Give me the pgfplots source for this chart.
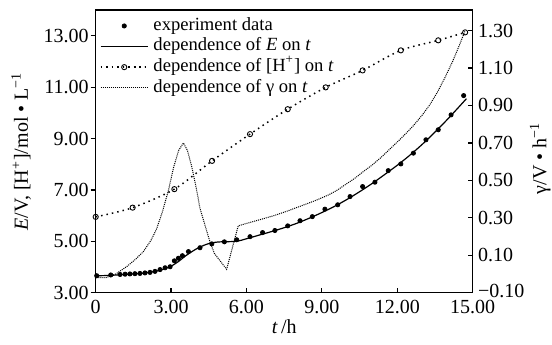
\documentclass[border=0pt]{standalone}
\usepackage{pgfplots}
\pgfplotsset{compat=1.18}
\usepackage{fontspec}
\setmainfont{Liberation Serif}
\begin{document}
\begin{tikzpicture}
\pgfplotsset{
  common/.style={
    scale only axis, width=188.5pt, height=141.35pt,
    xmin=0, xmax=15,
    /pgf/number format/assume math mode=true,
    tick label style={font=\fontsize{10}{12}\selectfont},
    label style={font=\fontsize{10.5}{12}\selectfont},
    major tick length=2.5pt,
    axis line style={line width=0.6pt},
    tick style={line width=0.6pt, black},
  }
}
\begin{axis}[common,
  ymin=3, ymax=14,
  xtick={0,3,6,9,12,15}, xticklabels={0,3.00,6.00,9.00,12.00,15.00},
  xtick pos=lower, ytick pos=left,
  ytick={3,5,7,9,11,13}, yticklabels={3.00,5.00,7.00,9.00,11.00,13.00},
  ytick style={xshift=-2.5pt},
  xlabel={\textit{t}\,/h},
  ylabel={\textit{E}/V, [H\textsuperscript{+}]/mol • L\textsuperscript{−1}},
  every axis x label/.style={at={(axis description cs:0.5,-0.12)}, anchor=center},
  every axis y label/.style={at={(axis description cs:-0.198,0.5)}, rotate=90, anchor=center},
  legend style={at={(axis description cs:0.0114,0.98)}, anchor=north west,
    draw=none, fill=none, inner sep=0pt, outer sep=0pt, row sep=0pt, column sep=0pt,
    font=\fontsize{9.3}{10}\selectfont,
    nodes={inner sep=0pt, inner xsep=2.5pt, inner ysep=0.75pt, text height=6.6pt, text depth=2.2pt}},
  legend cell align=left,
  legend image code/.code={\draw[mark repeat=2,mark phase=2,#1] plot coordinates {(0pt,0pt) (11.75pt,0pt) (23.5pt,0pt)};},
]
% experiment data
\addplot[only marks, mark=*, mark size=1.05pt, black] coordinates {
(0.04,3.66) (0.6,3.69) (0.97,3.71) (1.17,3.72) (1.36,3.73) (1.56,3.74) (1.76,3.75)
(1.96,3.77) (2.16,3.79) (2.36,3.83) (2.56,3.90) (2.76,3.97) (2.96,4.01)
(3.13,4.24) (3.29,4.34) (3.45,4.44) (3.69,4.60) (4.15,4.75) (4.62,4.90)
(5.12,4.98) (5.61,5.06) (6.14,5.18) (6.64,5.34) (7.13,5.42) (7.64,5.60)
(8.13,5.80) (8.62,5.96) (9.12,6.25) (9.63,6.42) (10.12,6.74) (10.62,7.13)
(11.11,7.30) (11.64,7.75) (12.14,8.01) (12.64,8.43) (13.14,8.95) (13.63,9.34)
(14.14,9.92) (14.64,10.67)
};
\addlegendentry{experiment data}
% E line
\addplot[black, line width=0.6pt, smooth, tension=0.5] coordinates {
(0,3.66) (0.5,3.67) (1.0,3.70) (1.5,3.73) (2.0,3.77) (2.5,3.86) (2.8,3.95)
(3.0,4.03) (3.3,4.22) (3.6,4.45) (4.0,4.70) (4.4,4.88) (4.75,4.96) (5.0,4.98)
(5.6,5.0) (6.0,5.10) (6.5,5.24) (7.0,5.38) (7.5,5.53) (8.0,5.70) (8.5,5.90)
(9.0,6.12) (9.5,6.36) (10.0,6.63) (10.5,6.93) (11.0,7.25) (11.5,7.60)
(12.0,7.96) (12.5,8.35) (13.0,8.78) (13.5,9.25) (14.0,9.75) (14.5,10.28) (14.75,10.55)
};
\addlegendentry{dependence of \textit{E} on \textit{t}}
% H+ line
\addplot[black, line width=0.75pt, dash pattern=on 0.75pt off 2pt, smooth,
  mark=o, mark size=1.3pt, mark options={solid, line width=0.45pt}] coordinates {
(0,5.95) (1.47,6.31) (3.13,7.03) (4.63,8.13) (6.14,9.17) (7.64,10.14)
(9.15,10.99) (10.62,11.65) (12.14,12.43) (13.63,12.82) (14.7,13.13)
};
\addlegendentry{dependence of [H\textsuperscript{+}] on \textit{t}}
\addlegendimage{black, line width=0.5pt, dash pattern=on 0.5pt off 0.5pt}
\addlegendentry{dependence of γ on \textit{t}}
\end{axis}
\begin{axis}[common,
  ymin=-0.10, ymax=1.41,
  axis x line=none, axis y line*=right,
  ytick={-0.1,0.1,0.3,0.5,0.7,0.9,1.1,1.3},
  yticklabels={\raisebox{1.8pt}{−0.10},0.10,0.30,0.50,0.70,0.90,1.10,1.30},
  yticklabel style={xshift=-0.8pt},
  ylabel={γ/V • h\textsuperscript{−1}},
  every axis y label/.style={at={(axis description cs:1.179,0.476)}, rotate=90, anchor=center},
]
\addplot[black, line width=0.5pt, dash pattern=on 0.5pt off 0.5pt] coordinates {
(0,-0.02) (0.4,-0.02) (0.8,0.0) (1.23,0.039) (1.6,0.08) (1.9,0.12) (2.2,0.18)
(2.42,0.24) (2.65,0.33) (2.9,0.45) (3.1,0.57) (3.3,0.66) (3.49,0.70) (3.65,0.66)
(3.82,0.574) (4.0,0.46) (4.15,0.35) (4.35,0.26) (4.55,0.17) (4.72,0.11) (5.21,0.025)
(5.67,0.257) (6.0,0.27) (6.4,0.285) (6.74,0.298) (7.1,0.312) (7.5,0.33) (8.06,0.358)
(8.7,0.39) (9.26,0.422) (9.6,0.447) (9.92,0.476) (10.3,0.51) (10.65,0.547)
(11.0,0.582) (11.35,0.622) (11.71,0.668) (12.0,0.705) (12.3,0.745) (12.64,0.792)
(13.0,0.85) (13.3,0.905) (13.6,0.972) (13.9,1.05) (14.2,1.135) (14.45,1.215) (14.7,1.30)
};
\end{axis}
\pgfresetboundingbox
\useasboundingbox (-47.85pt,-25.65pt) rectangle (228.15pt,146.35pt);
\end{tikzpicture}
\end{document}
